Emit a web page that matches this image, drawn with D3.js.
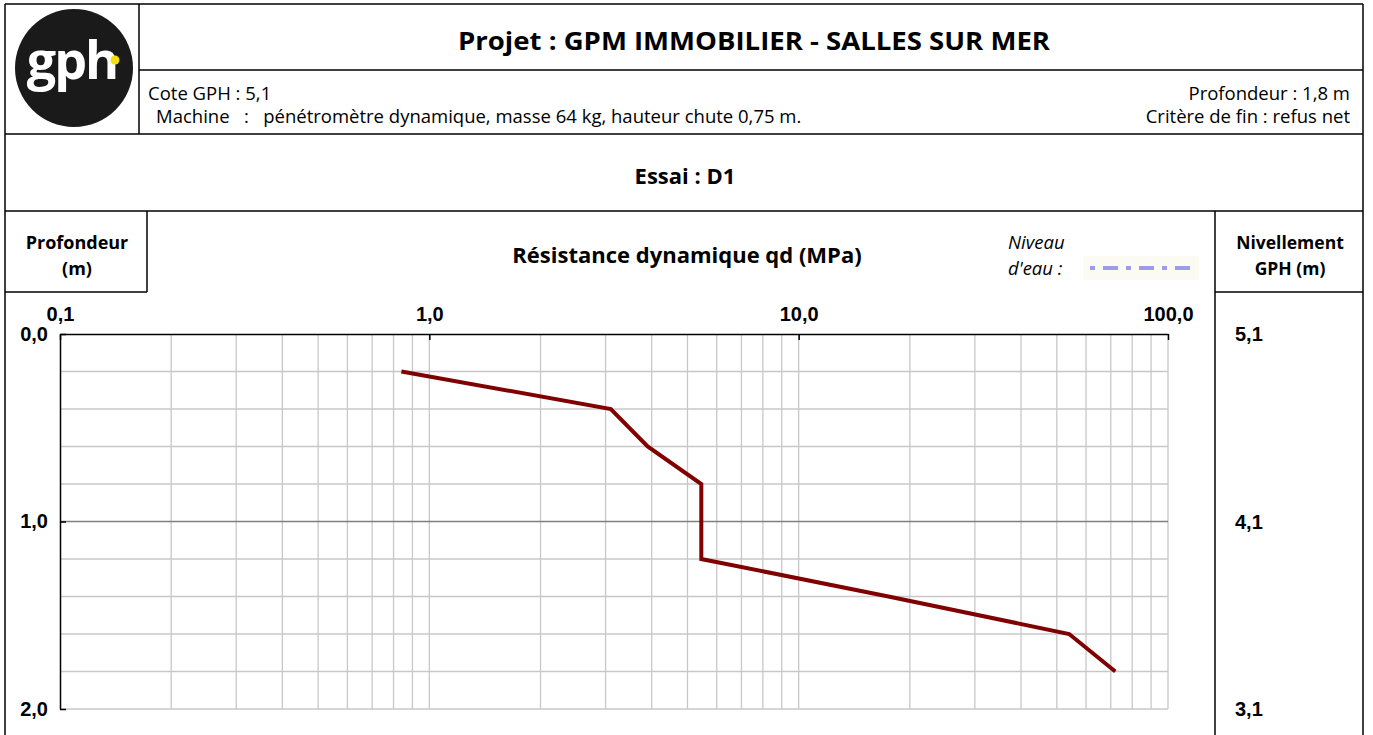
<!DOCTYPE html>
<html>
<head>
<meta charset="utf-8">
<script src="https://cdn.jsdelivr.net/npm/d3@7"></script>
<style>
    body { margin: 0; background: #fff; }
    svg { display: block; }
    .hdr { font-family: "Open Sans", sans-serif; fill: #000; }
    .axis-label { font-family: "Liberation Sans", Arial, sans-serif; font-weight: bold; font-size: 20px; fill: #000; }
</style>
</head>
<body>
<svg id="chart"></svg>
<script>
// Essai D1 : profondeur (m) / résistance dynamique qd (MPa)
const depths = [0.2, 0.4, 0.6, 0.8, 1.0, 1.2, 1.4, 1.6, 1.8];
const qdValues = [0.84, 3.1, 3.9, 5.45, 5.45, 5.45, 17.5, 54, 72];

const qdTicks = [0.1, 1, 10, 100];
const qdTickLabels = ['0,1', '1,0', '10,0', '100,0'];
const depthTicks = [0, 1, 2];
const depthTickLabels = ['0,0', '1,0', '2,0'];
const levelLabels = ['5,1', '4,1', '3,1'];

class Penetrogram {
    constructor(_config) {
        this.config = {
            parentElement: _config.parentElement,
            containerWidth: 1373,
            containerHeight: 735,
            plot: { left: 60, right: 1168, top: 334, bottom: 709 },
        };
        this.initVis();
    }

    initVis() {
        let vis = this;
        vis.svg = d3.select(vis.config.parentElement)
            .attr('width', vis.config.containerWidth)
            .attr('height', vis.config.containerHeight);

        vis.drawFrame();

        const p = vis.config.plot;
        vis.xScale = d3.scaleLog().domain([0.1, 100]).range([p.left, p.right]);
        vis.yScale = d3.scaleLinear().domain([0, 2]).range([p.top, p.bottom]);

        vis.renderVis();
    }

    drawFrame() {
        let vis = this;
        const frame = vis.svg.append('g')
            .attr('fill', 'none')
            .attr('stroke', '#000')
            .attr('stroke-width', 1.5);

        const lines = [
            [5, 4, 1363, 4],       // top
            [5, 4, 5, 735],        // left
            [1363, 4, 1363, 211],  // right, header
            [139, 4, 139, 134],    // logo box
            [139, 70, 1363, 70],
            [5, 134, 1363, 134],
            [5, 211, 1363, 211],
            [5, 292, 147, 292],
            [147, 211, 147, 292],
            [1215, 211, 1215, 735],
            [1363, 211, 1363, 735],
            [1215, 292, 1363, 292],
        ];
        frame.selectAll('line')
            .data(lines)
            .join('line')
            .attr('x1', d => d[0]).attr('y1', d => d[1])
            .attr('x2', d => d[2]).attr('y2', d => d[3]);

        // logo
        const logo = vis.svg.append('g');
        logo.append('circle')
            .attr('cx', 74).attr('cy', 68).attr('r', 59)
            .attr('fill', '#1a1a1a');
        logo.append('text')
            .attr('x', 72).attr('y', 79)
            .attr('text-anchor', 'middle')
            .attr('font-family', '"Open Sans", sans-serif')
            .attr('font-weight', 'bold')
            .attr('font-size', 52)
            .attr('letter-spacing', -2)
            .attr('fill', '#fff')
            .text('gph');
        logo.append('circle')
            .attr('cx', 115).attr('cy', 60).attr('r', 4.5)
            .attr('fill', '#f2e10c');

        const txt = (x, y, s, opts = {}) => {
            const t = vis.svg.append('text')
                .attr('class', 'hdr')
                .attr('x', x).attr('y', y)
                .attr('text-anchor', opts.anchor || 'start')
                .attr('font-size', opts.size || 18.5)
                .attr('font-weight', opts.bold ? 'bold' : 'normal')
                .attr('font-style', opts.italic ? 'italic' : 'normal')
                .attr('xml:space', 'preserve')
                .text(s);
            if (opts.width) t.attr('textLength', opts.width).attr('lengthAdjust', 'spacingAndGlyphs');
            return t;
        };

        txt(754, 50, 'Projet : GPM IMMOBILIER - SALLES SUR MER', { anchor: 'middle', size: 25, bold: true, width: 592 });
        txt(148, 100, 'Cote GPH : 5,1');
        txt(156, 123, 'Machine   :   pénétromètre dynamique, masse 64 kg, hauteur chute 0,75 m.');
        txt(1350, 100, 'Profondeur : 1,8 m', { anchor: 'end' });
        txt(1350, 123, 'Critère de fin : refus net', { anchor: 'end' });
        txt(685, 184, 'Essai : D1', { anchor: 'middle', size: 22, bold: true });
        txt(77, 249, 'Profondeur', { anchor: 'middle', size: 18, bold: true });
        txt(77, 275, '(m)', { anchor: 'middle', size: 18, bold: true });
        txt(687, 263, 'Résistance dynamique qd (MPa)', { anchor: 'middle', size: 22, bold: true });
        txt(1008, 249, 'Niveau', { italic: true, size: 18.5 });
        txt(1008, 275, "d'eau :", { italic: true, size: 18.5 });
        txt(1290, 249, 'Nivellement', { anchor: 'middle', size: 17.5, bold: true });
        txt(1290, 275, 'GPH (m)', { anchor: 'middle', size: 17.5, bold: true });

        // legend: water level line (dash-dot, blurred)
        const defs = vis.svg.append('defs');
        defs.append('filter').attr('id', 'soft')
            .attr('filterUnits', 'userSpaceOnUse')
            .attr('x', 1075).attr('y', 255).attr('width', 130).attr('height', 26)
            .append('feGaussianBlur').attr('stdDeviation', 0.7);
        vis.svg.append('rect')
            .attr('x', 1083).attr('y', 256).attr('width', 116).attr('height', 24)
            .attr('fill', '#fbfbf4');
        vis.svg.append('line')
            .attr('x1', 1090).attr('x2', 1196).attr('y1', 268).attr('y2', 268)
            .attr('stroke', '#9c9ce8')
            .attr('stroke-width', 4)
            .attr('stroke-dasharray', '5,8,15,8')
            .attr('filter', 'url(#soft)');
    }

    renderVis() {
        let vis = this;
        const p = vis.config.plot;

        // vertical grid (2..9 of each decade + decades)
        const xGrid = vis.xScale.ticks().filter(d => d > 0.1);
        vis.svg.append('g').selectAll('line')
            .data(xGrid)
            .join('line')
            .attr('x1', d => vis.xScale(d)).attr('x2', d => vis.xScale(d))
            .attr('y1', p.top).attr('y2', p.bottom)
            .attr('stroke', '#c8c8c8')
            .attr('stroke-width', 1.3);

        // horizontal grid, every 0.2 m
        const yGrid = vis.yScale.ticks(10).filter(d => d > 0);
        vis.svg.append('g').selectAll('line')
            .data(yGrid)
            .join('line')
            .attr('x1', p.left).attr('x2', p.right)
            .attr('y1', d => vis.yScale(d)).attr('y2', d => vis.yScale(d))
            .attr('stroke', d => Math.abs(d - 1) < 1e-9 ? '#808080' : '#c8c8c8')
            .attr('stroke-width', 1.3);

        // top axis
        const xAxis = d3.axisTop(vis.xScale)
            .tickValues(qdTicks)
            .tickSize(-6)
            .tickSizeOuter(0)
            .tickFormat((d, i) => qdTickLabels[i]);
        const xAxisG = vis.svg.append('g')
            .attr('transform', `translate(0,${p.top})`)
            .call(xAxis);
        xAxisG.select('.domain').attr('stroke', '#000').attr('stroke-width', 1.5);
        xAxisG.selectAll('.tick line').attr('stroke', '#000').attr('stroke-width', 1.5);
        xAxisG.selectAll('.tick text')
            .attr('class', 'axis-label')
            .attr('y', -13)
            .attr('dy', 0);

        // left axis
        const yAxis = d3.axisLeft(vis.yScale)
            .tickValues(depthTicks)
            .tickSize(-6)
            .tickSizeOuter(0)
            .tickFormat((d, i) => depthTickLabels[i]);
        const yAxisG = vis.svg.append('g')
            .attr('transform', `translate(${p.left},0)`)
            .call(yAxis);
        yAxisG.select('.domain').attr('stroke', '#000').attr('stroke-width', 1.5);
        yAxisG.selectAll('.tick line').attr('stroke', '#000').attr('stroke-width', 1.5);
        yAxisG.selectAll('.tick text')
            .attr('class', 'axis-label')
            .attr('x', -12)
            .attr('dy', '0.32em');

        // right column: levelling
        vis.svg.append('g').selectAll('text')
            .data(depthTicks)
            .join('text')
            .attr('class', 'axis-label')
            .attr('x', 1235)
            .attr('y', d => vis.yScale(d))
            .attr('dy', '0.35em')
            .text((d, i) => levelLabels[i]);

        // qd profile
        const line = d3.line()
            .x(d => vis.xScale(d.qd))
            .y(d => vis.yScale(d.depth));
        const points = depths.map((d, i) => ({ depth: d, qd: qdValues[i] }));
        vis.svg.append('path')
            .datum(points)
            .attr('d', line)
            .attr('fill', 'none')
            .attr('stroke', '#800000')
            .attr('stroke-width', 4);
    }
}

new Penetrogram({ parentElement: '#chart' });
</script>
</body>
</html>
